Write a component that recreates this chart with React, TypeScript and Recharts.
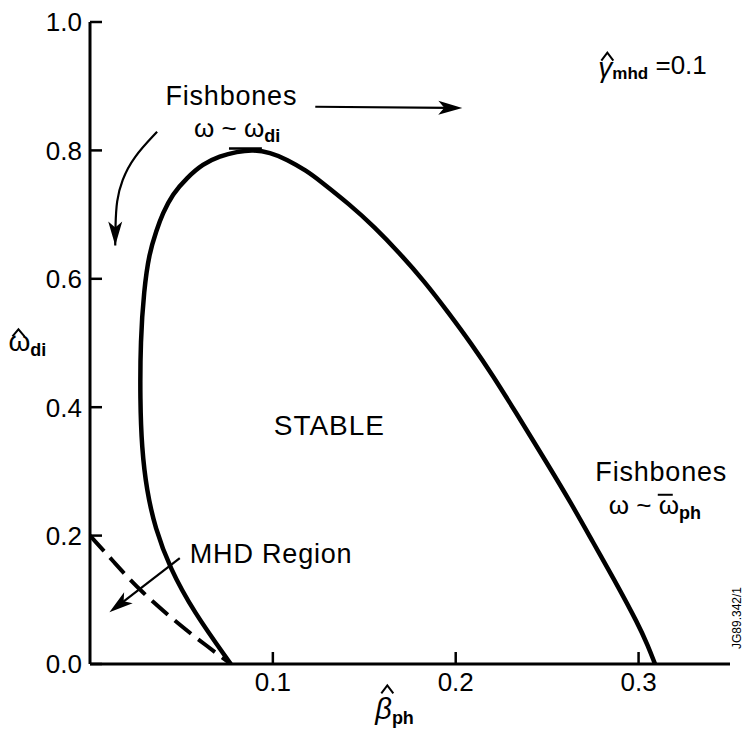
import React from "react";
import {
  ComposedChart,
  Line,
  XAxis,
  YAxis,
  ReferenceLine,
  ReferenceDot,
} from "recharts";

const FONT = '"Liberation Sans", Arial, Helvetica, sans-serif';

// marginal stability boundary (beta_ph, omega_di)
const BOUNDARY_X = [
  0.077, 0.0565, 0.0436, 0.0356, 0.031, 0.0283, 0.0274, 0.0276, 0.0295, 0.0323,
  0.0363, 0.0396, 0.0451, 0.0529, 0.0617, 0.071, 0.0803, 0.0891, 0.0984,
  0.1077, 0.1186, 0.1256, 0.1419, 0.1555, 0.169, 0.1826, 0.1961, 0.2085,
  0.2204, 0.2322, 0.2501, 0.2628, 0.2754, 0.2862, 0.3002, 0.305, 0.309,
];
const BOUNDARY_Y = [
  0.0, 0.082, 0.15, 0.212, 0.27, 0.337, 0.41, 0.504, 0.582, 0.639, 0.675,
  0.701, 0.732, 0.757, 0.779, 0.791, 0.798, 0.801, 0.797, 0.786, 0.768, 0.753,
  0.716, 0.681, 0.641, 0.597, 0.547, 0.499, 0.449, 0.395, 0.312, 0.252, 0.188,
  0.134, 0.06, 0.029, 0.0,
];

// dashed MHD limit
const MHD_X = [0.0, 0.014, 0.0271, 0.051, 0.064, 0.077];
const MHD_Y = [0.2, 0.156, 0.1145, 0.056, 0.028, 0.0];

// curved arrow under the upper "Fishbones" label
const BEND_X = [0.0367, 0.0235, 0.0173, 0.0145, 0.0139, 0.0138];
const BEND_Y = [0.829, 0.789, 0.753, 0.722, 0.683, 0.652];

const X_TICKS = [0.1, 0.2, 0.3];
const Y_TICKS = [0, 0.2, 0.4, 0.6, 0.8, 1.0];

const zip = (xs: number[], ys: number[]) => xs.map((x, i) => ({ x, y: ys[i] }));

const boundary = zip(BOUNDARY_X, BOUNDARY_Y);
const mhd = zip(MHD_X, MHD_Y);
const bend = zip(BEND_X, BEND_Y);

function head(tx: number, ty: number, ux: number, uy: number) {
  const L = 24;
  const W = 7;
  const nx = -uy;
  const ny = ux;
  const bx = tx - L * ux;
  const by = ty - L * uy;
  const pts = [
    [tx, ty],
    [bx + W * nx, by + W * ny],
    [tx - (L - 6) * ux, ty - (L - 6) * uy],
    [bx - W * nx, by - W * ny],
  ];
  return <polygon points={pts.map((p) => p.join(",")).join(" ")} fill="#000" />;
}

const Arrow = (p: any) => {
  const { x1, y1, x2, y2 } = p;
  const len = Math.hypot(x2 - x1, y2 - y1) || 1;
  const ux = (x2 - x1) / len;
  const uy = (y2 - y1) / len;
  return (
    <g>
      <line
        x1={x1}
        y1={y1}
        x2={x2 - 14 * ux}
        y2={y2 - 14 * uy}
        stroke="#000"
        strokeWidth={2.2}
      />
      {head(x2, y2, ux, uy)}
    </g>
  );
};

// circumflex drawn over a glyph
const Hat = ({ x, y, w = 12, h = 7 }: { x: number; y: number; w?: number; h?: number }) => (
  <polyline
    points={`${x - w / 2},${y} ${x},${y - h} ${x + w / 2},${y}`}
    fill="none"
    stroke="#000"
    strokeWidth={2}
  />
);

const BottomTick = ({ x, y, payload }: any) => (
  <g>
    <line x1={x} y1={y} x2={x} y2={y - 12} stroke="#000" strokeWidth={2.5} />
    <text x={x} y={y + 27} textAnchor="middle" fontFamily={FONT} fontSize={26} fill="#000">
      {payload.value.toFixed(1)}
    </text>
  </g>
);

const LeftTick = ({ x, y, payload }: any) => (
  <g>
    <line x1={x} y1={y} x2={x + 12} y2={y} stroke="#000" strokeWidth={2.5} />
    <text x={x - 8} y={y} dy="0.36em" textAnchor="end" fontFamily={FONT} fontSize={26} fill="#000">
      {payload.value.toFixed(1)}
    </text>
  </g>
);

const TopTick = ({ x, y }: any) => (
  <line x1={x} y1={y} x2={x} y2={y + 12} stroke="#000" strokeWidth={2.5} />
);

const RightTick = ({ x, y }: any) => (
  <line x1={x} y1={y} x2={x - 12} y2={y} stroke="#000" strokeWidth={2.5} />
);

const note = (x: number, y: number, draw: (cx: number, cy: number) => React.ReactElement) => (
  <ReferenceDot
    x={x}
    y={y}
    r={0}
    ifOverflow="visible"
    shape={(p: any) => draw(p.cx, p.cy)}
  />
);

const txt = { fontFamily: FONT, fill: "#000" } as const;

export default function App() {
  const lastBend = bend.length - 1;
  return (
    <div
      style={{
        position: "absolute",
        left: 0,
        top: 0,
        width: 750,
        height: 732,
        background: "#fff",
      }}
    >
      <ComposedChart
        width={750}
        height={732}
        margin={{ top: 22, right: 20, bottom: 28, left: 0 }}
      >
        <XAxis
          type="number"
          dataKey="x"
          domain={[0, 0.35]}
          ticks={X_TICKS}
          height={40}
          tickSize={0}
          tickMargin={0}
          tick={BottomTick}
          tickLine={false}
          axisLine={{ stroke: "#000", strokeWidth: 3 }}
          allowDataOverflow
        />
        <XAxis
          xAxisId="t"
          orientation="top"
          type="number"
          dataKey="x"
          domain={[0, 0.35]}
          ticks={X_TICKS}
          height={0}
          tickSize={0}
          tickMargin={0}
          tick={TopTick}
          tickLine={false}
          axisLine={{ stroke: "#000", strokeWidth: 3 }}
          allowDataOverflow
        />
        <YAxis
          type="number"
          domain={[0, 1]}
          ticks={Y_TICKS}
          width={90}
          tickSize={0}
          tickMargin={0}
          tick={LeftTick}
          tickLine={false}
          axisLine={{ stroke: "#000", strokeWidth: 3 }}
          allowDataOverflow
        />
        <YAxis
          yAxisId="r"
          orientation="right"
          type="number"
          domain={[0, 1]}
          ticks={Y_TICKS.slice(1, 5)}
          width={0}
          tickSize={0}
          tickMargin={0}
          tick={RightTick}
          tickLine={false}
          axisLine={{ stroke: "#000", strokeWidth: 3 }}
          allowDataOverflow
        />

        <Line
          data={mhd}
          dataKey="y"
          type="basis"
          stroke="#000"
          strokeWidth={4}
          strokeDasharray="21 9"
          dot={false}
          activeDot={false}
          isAnimationActive={false}
        />
        <Line
          data={boundary}
          dataKey="y"
          type="basis"
          stroke="#000"
          strokeWidth={4.5}
          dot={false}
          activeDot={false}
          isAnimationActive={false}
        />
        <Line
          data={bend}
          dataKey="y"
          type="basis"
          stroke="#000"
          strokeWidth={2.2}
          activeDot={false}
          isAnimationActive={false}
          dot={(p: any) =>
            p.index === lastBend ? (
              <g key="bend-head">{head(p.cx, p.cy, 0, 1)}</g>
            ) : (
              <g key={`b${p.index}`} />
            )
          }
        />

        {/* small mark on top of the maximum */}
        <ReferenceLine
          segment={[
            { x: 0.076, y: 0.803 },
            { x: 0.094, y: 0.803 },
          ]}
          stroke="#000"
          strokeWidth={2.5}
        />
        <ReferenceLine
          segment={[
            { x: 0.1232, y: 0.868 },
            { x: 0.2036, y: 0.866 },
          ]}
          shape={Arrow}
        />
        <ReferenceLine
          segment={[
            { x: 0.0491, y: 0.165 },
            { x: 0.0106, y: 0.0805 },
          ]}
          shape={Arrow}
        />

        {note(0.0773, 0.871, (cx, cy) => (
          <text x={cx} y={cy} textAnchor="middle" fontSize={27} letterSpacing={0.8} {...txt}>
            Fishbones
          </text>
        ))}
        {note(0.0805, 0.821, (cx, cy) => (
          <text x={cx} y={cy} textAnchor="middle" fontSize={26} {...txt}>
            ω ~ ω
            <tspan fontSize={18} fontWeight="bold" dy={5}>
              di
            </tspan>
          </text>
        ))}
        {note(0.1309, 0.357, (cx, cy) => (
          <text x={cx} y={cy} textAnchor="middle" fontSize={28} letterSpacing={1} {...txt}>
            STABLE
          </text>
        ))}
        {note(0.3124, 0.285, (cx, cy) => (
          <g>
            <rect x={cx + 56} y={cy - 26} width={24} height={72} fill="#fff" />
            <text x={cx} y={cy} textAnchor="middle" fontSize={27} letterSpacing={0.8} {...txt}>
              Fishbones
            </text>
          </g>
        ))}
        {note(0.2837, 0.234, (cx, cy) => (
          <g>
            <text x={cx} y={cy} textAnchor="start" fontSize={26} {...txt}>
              ω ~ ω
              <tspan fontSize={18} fontWeight="bold" dy={5}>
                ph
              </tspan>
            </text>
            <line x1={cx + 49} y1={cy - 19} x2={cx + 64} y2={cy - 19} stroke="#000" strokeWidth={2} />
          </g>
        ))}
        {note(0.0546, 0.157, (cx, cy) => (
          <text x={cx} y={cy} textAnchor="start" fontSize={27} letterSpacing={0.8} {...txt}>
            MHD Region
          </text>
        ))}
        {note(0.278, 0.9196, (cx, cy) => (
          <g>
            <text x={cx} y={cy} textAnchor="start" fontSize={26} {...txt}>
              <tspan fontStyle="italic" fontSize={28} dy={3}>
                γ
              </tspan>
              <tspan fontSize={17} fontWeight="bold" dy={2}>
                mhd
              </tspan>
              <tspan dy={-5}> =0.1</tspan>
            </text>
            <Hat x={cx + 9} y={cy - 13} w={12} h={8} />
          </g>
        ))}
        {note(-0.0446, 0.487, (cx, cy) => (
          <g>
            <text x={cx} y={cy} textAnchor="start" fontSize={28} {...txt}>
              ω
              <tspan fontSize={18} fontWeight="bold" dy={5}>
                di
              </tspan>
            </text>
            <Hat x={cx + 10} y={cy - 15} w={12} h={7} />
          </g>
        ))}
        {note(0.1697, -0.0863, (cx, cy) => (
          <g>
            <text x={cx - 25} y={cy} textAnchor="start" fontSize={29} {...txt}>
              <tspan fontStyle="italic">β</tspan>
              <tspan fontSize={18} fontWeight="bold" dy={5}>
                ph
              </tspan>
            </text>
            <Hat x={cx - 13} y={cy - 26} w={12} h={8} />
          </g>
        ))}
        {note(0.354, 0.0717, (cx, cy) => (
          <text
            x={cx}
            y={cy}
            transform={`rotate(-90 ${cx} ${cy})`}
            textAnchor="middle"
            dominantBaseline="central"
            fontSize={12}
            {...txt}
          >
            JG89.342/1
          </text>
        ))}
      </ComposedChart>
    </div>
  );
}
